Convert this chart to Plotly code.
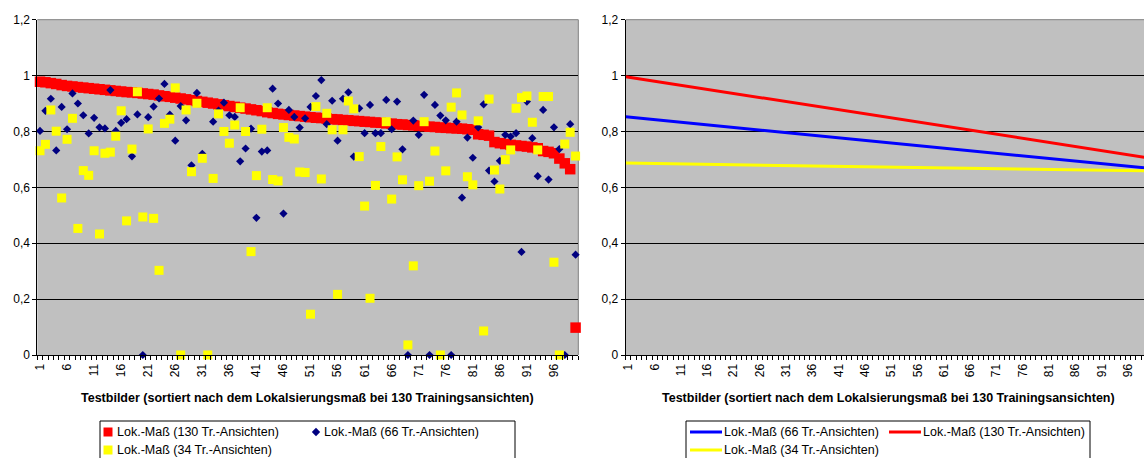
import numpy as np
import plotly.graph_objects as go

# Test images 1..100, sorted by the localisation measure at 130 training views
bilder = list(range(1, 101))

lok_130 = [
    0.978, 0.976, 0.973, 0.970, 0.966, 0.963, 0.961, 0.959, 0.957, 0.955,
    0.953, 0.951, 0.949, 0.947, 0.945, 0.943, 0.941, 0.940, 0.938, 0.936,
    0.934, 0.932, 0.929, 0.926, 0.924, 0.921, 0.918, 0.915, 0.912, 0.909,
    0.906, 0.903, 0.900, 0.897, 0.894, 0.891, 0.888, 0.885, 0.882, 0.879,
    0.876, 0.873, 0.869, 0.866, 0.863, 0.861, 0.859, 0.857, 0.855, 0.853,
    0.851, 0.849, 0.848, 0.846, 0.844, 0.843, 0.841, 0.840, 0.838, 0.837,
    0.835, 0.834, 0.832, 0.831, 0.829, 0.828, 0.826, 0.825, 0.823, 0.822,
    0.820, 0.819, 0.817, 0.816, 0.814, 0.813, 0.812, 0.811, 0.810, 0.808,
    0.806, 0.790, 0.788, 0.785, 0.762, 0.758, 0.755, 0.752, 0.750, 0.748,
    0.746, 0.743, 0.740, 0.730, 0.727, 0.722, 0.703, 0.686, 0.665, 0.098,
]

lok_66 = [
    0.802, 0.874, 0.917, 0.732, 0.888, 0.808, 0.936, 0.900, 0.858, 0.793,
    0.849, 0.815, 0.811, 0.948, 0.802, 0.831, 0.844, 0.711, 0.861, 0.000,
    0.851, 0.889, 0.918, 0.970, 0.860, 0.767, 0.891, 0.840, 0.679, 0.938,
    0.720, 0.000, 0.835, 0.875, 0.903, 0.858, 0.852, 0.693, 0.739, 0.810,
    0.491, 0.728, 0.732, 0.953, 0.900, 0.506, 0.877, 0.852, 0.814, 0.847,
    0.888, 0.927, 0.984, 0.826, 0.910, 0.767, 0.917, 0.940, 0.710, 0.883,
    0.794, 0.895, 0.794, 0.794, 0.913, 0.808, 0.907, 0.736, 0.000, 0.839,
    0.788, 0.931, 0.000, 0.895, 0.857, 0.840, 0.000, 0.835, 0.563, 0.778,
    0.706, 0.815, 0.897, 0.660, 0.621, 0.695, 0.788, 0.782, 0.794, 0.369,
    0.907, 0.776, 0.640, 0.877, 0.628, 0.815, 0.737, 0.000, 0.826, 0.359,
]

lok_34 = [
    0.731, 0.754, 0.877, 0.801, 0.562, 0.772, 0.847, 0.453, 0.660, 0.643,
    0.731, 0.433, 0.722, 0.726, 0.783, 0.874, 0.480, 0.737, 0.942, 0.494,
    0.809, 0.489, 0.303, 0.829, 0.844, 0.956, 0.000, 0.877, 0.656, 0.901,
    0.704, 0.000, 0.632, 0.863, 0.800, 0.758, 0.823, 0.885, 0.800, 0.370,
    0.642, 0.808, 0.885, 0.628, 0.623, 0.814, 0.779, 0.773, 0.655, 0.653,
    0.146, 0.889, 0.630, 0.865, 0.806, 0.217, 0.806, 0.909, 0.881, 0.710,
    0.533, 0.203, 0.607, 0.746, 0.835, 0.558, 0.709, 0.627, 0.036, 0.319,
    0.606, 0.835, 0.622, 0.730, 0.000, 0.659, 0.887, 0.938, 0.859, 0.638,
    0.609, 0.838, 0.086, 0.916, 0.662, 0.594, 0.699, 0.734, 0.883, 0.921,
    0.927, 0.833, 0.734, 0.925, 0.925, 0.332, 0.000, 0.755, 0.797, 0.712,
]

x_tick_vals = list(range(1, 100, 5))
x_tick_text = [str(v) for v in x_tick_vals]
y_tick_vals = [0, 0.2, 0.4, 0.6, 0.8, 1.0, 1.2]

name_130 = "Lok.-Maß (130 Tr.-Ansichten)"
name_66 = "Lok.-Maß (66 Tr.-Ansichten)"
name_34 = "Lok.-Maß (34 Tr.-Ansichten)"
x_title = "Testbilder (sortiert nach dem Lokalsierungsmaß bei 130 Trainingsansichten)"

RED, NAVY, YELLOW, BLUE = "#FF0000", "#000080", "#FFFF00", "#0000FF"
GRAY_BG, BORDER = "#C0C0C0", "#808080"
FONT = "Liberation Sans, Arial, sans-serif"

W, H = 1144, 458


def fx(p):
    return p / W


def fy(p):
    return 1 - p / H


# plot-area geometry in page pixels
L_LEFT, L_RIGHT = 37.3, 578.3
R_LEFT = 625.7
R_STEP = 5.26
TOP, BOTTOM = 19.7, 355.0

fig = go.Figure()

# ---- left panel: scatter of the three series ----
fig.add_trace(go.Scatter(
    x=bilder, y=lok_130, mode="markers", name=name_130, cliponaxis=False,
    marker=dict(symbol="square", size=10.5, color=RED, line=dict(width=0)),
    xaxis="x", yaxis="y", showlegend=False))
fig.add_trace(go.Scatter(
    x=bilder, y=lok_66, mode="markers", name=name_66, cliponaxis=False,
    marker=dict(symbol="diamond", size=6.3, color=NAVY, line=dict(width=0)),
    xaxis="x", yaxis="y", showlegend=False))
fig.add_trace(go.Scatter(
    x=bilder, y=lok_34, mode="markers", name=name_34, cliponaxis=False,
    marker=dict(symbol="square", size=9, color=YELLOW, line=dict(width=0)),
    xaxis="x", yaxis="y", showlegend=False))

# ---- right panel: linear trend of each series ----
x_line = np.array([0.5, 100.5])
for vals, color, name in [(lok_66, BLUE, name_66), (lok_130, RED, name_130), (lok_34, YELLOW, name_34)]:
    slope, icpt = np.polyfit(np.array(bilder, dtype=float), np.array(vals), 1)
    fig.add_trace(go.Scatter(
        x=x_line, y=icpt + slope * x_line, mode="lines", name=name,
        line=dict(color=color, width=3), xaxis="x2", yaxis="y2", showlegend=False))

tickfont = dict(family=FONT, size=12, color="black")
y_dom = [fy(BOTTOM), fy(TOP)]

common_x = dict(
    tickmode="array", tickvals=x_tick_vals, ticktext=x_tick_text, tickangle=-90,
    ticks="", showgrid=False, zeroline=False, showline=True, linecolor="black",
    linewidth=1, tickfont=tickfont, automargin=False, ticklabelstandoff=3,
    minor=dict(tickmode="linear", tick0=0.5, dtick=1, ticks="outside", ticklen=4,
               tickcolor="black", tickwidth=1, showgrid=False),
)
common_y = dict(
    range=[0, 1.2], tickmode="array", tickvals=y_tick_vals, showgrid=True,
    gridcolor="black", gridwidth=1, zeroline=False, showline=True, linecolor="black",
    linewidth=1, ticks="outside", ticklen=4, tickcolor="black", tickfont=tickfont,
    automargin=False, domain=y_dom,
)

fig.update_layout(
    width=W, height=H, autosize=False,
    margin=dict(l=0, r=0, t=0, b=0, pad=0),
    paper_bgcolor="white", plot_bgcolor=GRAY_BG,
    separators=",.",
    font=dict(family=FONT, size=12, color="black"),
    xaxis=dict(domain=[fx(L_LEFT), fx(L_RIGHT)], range=[0.5, 100.5], anchor="y", **common_x),
    yaxis=dict(anchor="x", **common_y),
    xaxis2=dict(domain=[fx(R_LEFT), 1.0], range=[0.5, 0.5 + (W - R_LEFT) / R_STEP], anchor="y2", **common_x),
    yaxis2=dict(anchor="x2", **common_y),
)

shapes = []
# grey plot-area borders (top and right)
shapes.append(dict(type="line", xref="paper", yref="paper", x0=fx(L_LEFT), x1=fx(L_RIGHT),
                   y0=fy(TOP), y1=fy(TOP), line=dict(color=BORDER, width=1), layer="between"))
shapes.append(dict(type="line", xref="paper", yref="paper", x0=fx(L_RIGHT), x1=fx(L_RIGHT),
                   y0=fy(TOP), y1=fy(BOTTOM), line=dict(color=BORDER, width=1), layer="between"))
shapes.append(dict(type="line", xref="paper", yref="paper", x0=fx(R_LEFT), x1=1.0,
                   y0=fy(TOP), y1=fy(TOP), line=dict(color=BORDER, width=1), layer="between"))

annotations = []
# axis titles
for cx in [(L_LEFT + L_RIGHT) / 2, R_LEFT + 50 * R_STEP]:
    annotations.append(dict(text="<b>" + x_title + "</b>", x=fx(cx), y=fy(398), xref="paper", yref="paper",
                            xanchor="center", yanchor="middle", showarrow=False,
                            font=dict(family=FONT, size=12.5, color="black")))


def legend_text(x, y, text):
    annotations.append(dict(text=text, x=fx(x), y=fy(y), xref="paper", yref="paper",
                            xanchor="left", yanchor="middle", showarrow=False,
                            font=dict(family=FONT, size=12.5, color="black")))


def legend_box(x0, x1, top):
    shapes.append(dict(type="rect", xref="paper", yref="paper", x0=fx(x0), x1=fx(x1),
                       y0=fy(top), y1=fy(H + 20), line=dict(color="black", width=1),
                       fillcolor="white", layer="above"))


def legend_square(cx, cy, color, s=9):
    shapes.append(dict(type="rect", xref="paper", yref="paper", x0=fx(cx - s / 2), x1=fx(cx + s / 2),
                       y0=fy(cy + s / 2), y1=fy(cy - s / 2), line=dict(width=0),
                       fillcolor=color, layer="above"))


def legend_diamond(cx, cy, color, r=4.2):
    path = "M {} {} L {} {} L {} {} L {} {} Z".format(
        fx(cx - r), fy(cy), fx(cx), fy(cy - r), fx(cx + r), fy(cy), fx(cx), fy(cy + r))
    shapes.append(dict(type="path", xref="paper", yref="paper", path=path,
                       line=dict(width=0), fillcolor=color, layer="above"))


def legend_line(x0, x1, cy, color):
    shapes.append(dict(type="line", xref="paper", yref="paper", x0=fx(x0), x1=fx(x1),
                       y0=fy(cy), y1=fy(cy), line=dict(color=color, width=3), layer="above"))


ROW1, ROW2 = 432, 450

# left legend
legend_box(100, 515, 421)
legend_square(108, ROW1, RED)
legend_text(115, ROW1, name_130)
legend_diamond(316, ROW1, NAVY)
legend_text(322, ROW1, name_66)
legend_square(108, ROW2, YELLOW)
legend_text(115, ROW2, name_34)

# right legend
legend_box(686, 1090, 421)
legend_line(690, 722, ROW1, BLUE)
legend_text(722, ROW1, name_66)
legend_line(889, 921, ROW1, RED)
legend_text(921, ROW1, name_130)
legend_line(690, 722, ROW2, YELLOW)
legend_text(722, ROW2, name_34)

fig.update_layout(shapes=shapes, annotations=annotations)

fig.write_html("out.html")
